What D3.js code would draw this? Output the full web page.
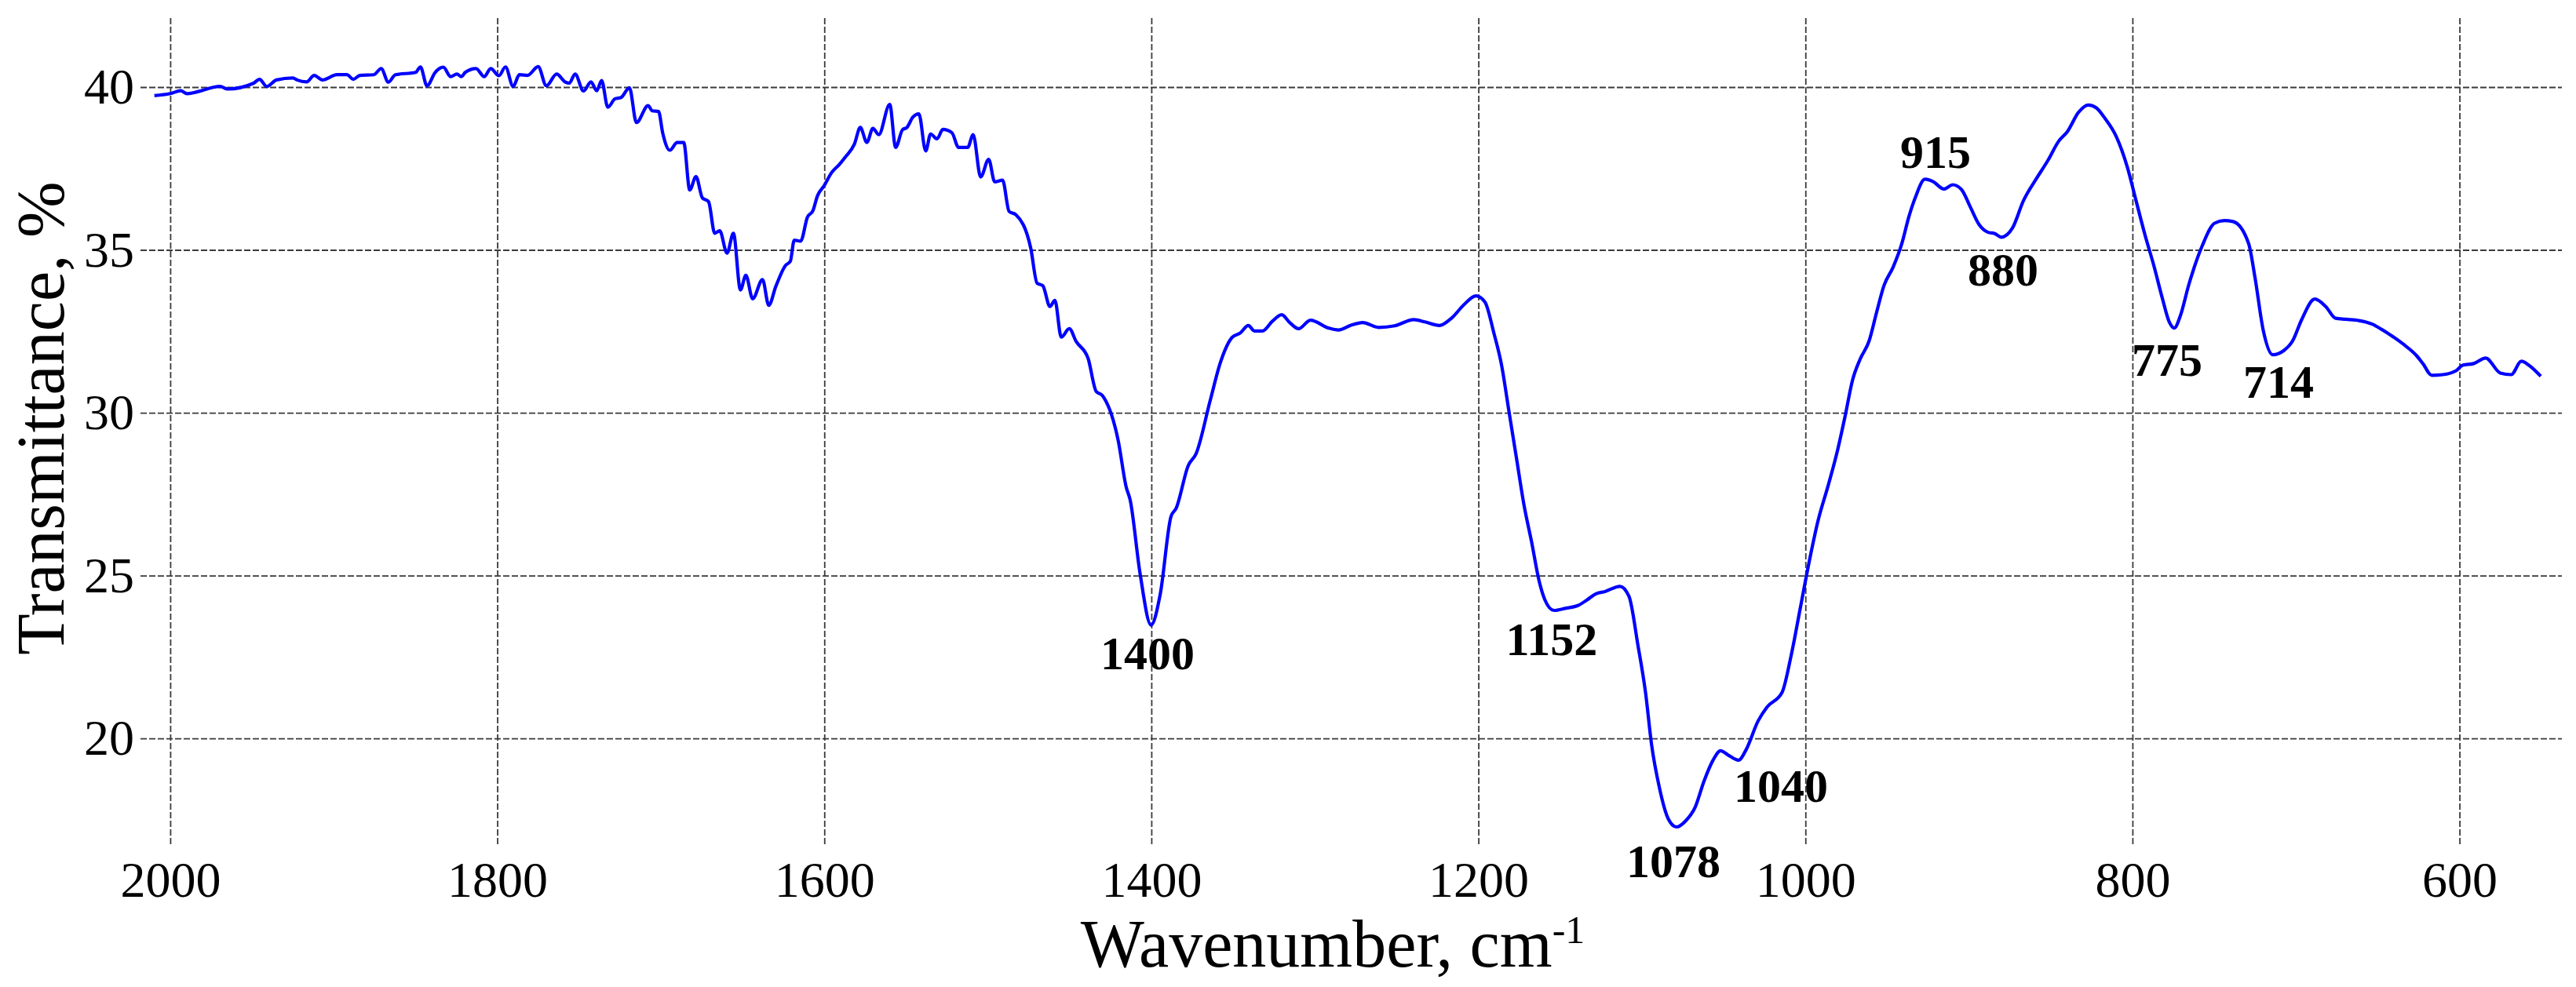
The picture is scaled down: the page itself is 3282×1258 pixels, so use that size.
<!DOCTYPE html>
<html>
<head>
<meta charset="utf-8">
<title>IR spectrum</title>
<script src="https://cdn.jsdelivr.net/npm/d3@7"></script>
<style>
    body { margin: 0; background: #ffffff; }
    .chart text { font-family: "Liberation Serif", "Times New Roman", serif; fill: #000; }
    .grid line { stroke: #3a3a3a; stroke-width: 1.8; stroke-dasharray: 8, 3; }
    .grid .domain { display: none; }
</style>
</head>
<body>
<div class="chart"></div>
<script>
// spectrum (wavenumber in cm-1, transmittance in %)
const wavenumber = [
    2009.7, 2000, 1993.6, 1989.8, 1969.5, 1964.9, 1949, 1945.4, 1941, 1935,
    1925, 1922.5, 1916.6, 1912, 1907, 1898, 1892, 1888, 1884, 1875.5,
    1871, 1866.6, 1862.3, 1850, 1847, 1843, 1838, 1833, 1828.5, 1824.7,
    1822, 1819.6, 1813, 1808, 1804, 1799, 1795, 1790.3, 1786.5, 1781.5,
    1775, 1770, 1763.7, 1758.6, 1756, 1752.4, 1747.3, 1742.7, 1739.2, 1736.2,
    1732.4, 1728, 1724.3, 1719.2, 1714.9, 1707.8, 1705.2, 1701.4, 1698.8, 1694.5,
    1690, 1686, 1682.3, 1678.5, 1674.6, 1670.8, 1667, 1664, 1659.5, 1655.6,
    1651.3, 1648, 1643.8, 1637.8, 1634, 1629.6,
    1623.8, 1620.8, 1618.4, 1614.5, 1610.3, 1607, 1604.2, 1600, 1595.6, 1590.7,
    1587, 1581.6, 1578, 1574, 1570.3, 1566.7, 1560, 1556.4, 1552.2, 1549.5,
    1545.8, 1542.2, 1538, 1535, 1531.1, 1527.5, 1522, 1517.9, 1512.3, 1509,
    1504.4, 1499.5, 1495.8, 1491, 1487, 1482.8, 1473.8, 1469.9, 1466.4, 1462,
    1459, 1455.1, 1450.2, 1446, 1438.7, 1433.8, 1430, 1420.3, 1415.4, 1413,
    1406.9, 1400.2, 1394.6, 1388, 1384.8, 1377.5, 1372.5, 1364, 1357.8, 1350.5,
    1345.6, 1340.7, 1337, 1332.1, 1326, 1320.3, 1315.4, 1310, 1302.7, 1291.7,
    1285.5, 1278.2, 1270.8, 1261, 1251.2, 1239.5,
    1232.7, 1223.9, 1216.1, 1208.8, 1201.5, 1196, 1190.5, 1185.9, 1181.3, 1176.7,
    1172.1, 1167.5, 1162.9, 1159.3, 1153.8, 1146.4, 1139.1, 1133.6, 1128.1, 1122.6,
    1113.4, 1107.9, 1102.4, 1097.8, 1094.1, 1089.5, 1084, 1078.9, 1073, 1067.5,
    1062, 1056.5, 1051.9, 1047.3, 1040.9, 1036.3, 1029, 1023.5, 1014.3, 1008.8,
    1003.3, 997.8, 992.3, 985.9, 980.4, 975.8, 971.2, 966.6, 961.1, 956.5, 952,
    946.3, 940.9, 936.8, 932.8, 926.9, 922, 915.3, 909.9, 904.5, 899.1,
    893.7, 888.3, 884.2, 880.2, 873.4, 866.7, 858.6, 851.8, 845.1, 839.7,
    832.9, 827, 822.1, 816.7, 810, 803.2, 797.8, 792.4, 787, 781.6,
    777.6, 774.4, 770.9, 765.5, 757.4, 749.8, 743.9, 738.5, 729, 725,
    720.1, 714.2, 707.4, 702, 696.6, 688.5, 681.8, 675.8, 669.6, 661.5,
    653.4, 648, 642.6, 634.5, 626.4, 622.4, 617, 610.2, 602.1, 598.1,
    591.3, 584, 575.1, 568.4, 562.2, 557.6, 550.3
];
const transmittance = [
    39.74, 39.80, 39.89, 39.80, 40.02, 39.94, 40.12, 40.24, 40.02, 40.22,
    40.28, 40.22, 40.16, 40.36, 40.22, 40.38, 40.38, 40.24, 40.36, 40.38,
    40.57, 40.15, 40.38, 40.45, 40.62, 40.04, 40.45, 40.61, 40.32, 40.40,
    40.32, 40.45, 40.57, 40.32, 40.57, 40.35, 40.62, 40.02, 40.38, 40.36,
    40.63, 40.04, 40.40, 40.16, 40.12, 40.40, 39.88, 40.16, 39.89, 40.20,
    39.38, 39.64, 39.68, 39.98, 38.91, 39.43, 39.27, 39.25, 38.58, 38.06,
    38.30, 38.30, 36.84, 37.25, 36.60, 36.48, 35.51, 35.59, 34.90, 35.51,
    33.77, 34.22, 33.50, 34.09, 33.30, 33.89,
    34.52, 34.65, 35.30, 35.27, 36.01, 36.20, 36.66, 36.98, 37.37, 37.63,
    37.86, 38.25, 38.76, 38.30, 38.73, 38.54, 39.47, 38.15, 38.69, 38.76,
    39.08, 39.18, 38.04, 38.56, 38.41, 38.70, 38.60, 38.15, 38.15, 38.54,
    37.24, 37.78, 37.09, 37.14, 36.18, 36.08, 35.06, 33.98, 33.90, 33.26,
    33.45, 32.32, 32.58, 32.19, 31.67, 30.66, 30.53, 29.15, 27.72, 27.33,
    25.06, 23.48, 24.42, 26.81, 27.07, 28.37, 28.76, 30.38, 31.54, 32.32,
    32.45, 32.68, 32.51, 32.51, 32.81, 33.01, 32.77, 32.58, 32.84, 32.60,
    32.54, 32.68, 32.77, 32.62, 32.67, 32.86,
    32.79, 32.68, 32.92, 33.32, 33.59, 33.40, 32.44, 31.48, 30.04, 28.60,
    27.16, 26.04, 24.84, 24.25, 23.93, 24.00, 24.08, 24.25, 24.44, 24.51,
    24.67, 24.36, 22.85, 21.41, 19.81, 18.53, 17.54, 17.28, 17.48, 17.88,
    18.69, 19.33, 19.62, 19.49, 19.33, 19.65, 20.53, 20.96, 21.41, 22.53,
    23.96, 25.40, 26.68, 27.80, 28.84, 29.88, 31.00, 31.64, 32.20, 33.08, 33.90,
    34.48, 35.22, 36.01, 36.61, 37.17, 37.10, 36.87, 37.00, 36.85, 36.31,
    35.77, 35.54, 35.50, 35.39, 35.67, 36.51, 37.20, 37.74, 38.34, 38.64,
    39.23, 39.45, 39.36, 39.03, 38.49, 37.55, 36.51, 35.47, 34.53, 33.49,
    32.80, 32.60, 32.95, 33.94, 35.12, 35.82, 35.90, 35.87, 35.20, 34.13,
    32.55, 31.78, 31.91, 32.21, 32.85, 33.49, 33.26, 32.90, 32.87, 32.83,
    32.72, 32.57, 32.40, 32.11, 31.76, 31.51, 31.15, 31.17, 31.29, 31.46,
    31.51, 31.68, 31.22, 31.17, 31.58, 31.46, 31.12
];

// tick values of both axes
const xTicks = [2000, 1800, 1600, 1400, 1200, 1000, 800, 600];
const yTicks = [20, 25, 30, 35, 40];

// band labels and where they sit (in data units)
const peakNames = ["1400", "1152", "1078", "1040", "915", "880", "775", "714"];
const peakLabelX = [1402.4, 1155.2, 1080.8, 1015, 920.5, 879.2, 778.9, 710.7];
const peakLabelY = [22.12, 22.55, 15.73, 18.06, 37.52, 33.90, 31.13, 30.46];

const width = 3282;
const height = 1258;
const plot = {left: 179, right: 3264, top: 23, bottom: 1076};

const svg = d3.select(".chart")
    .append("svg")
    .attr("width", width)
    .attr("height", height);

// scales: wavenumber runs right to left like in the spectrum
const xScale = d3.scaleLinear()
    .domain([2018.2, 537.4])
    .range([plot.left, plot.right]);

const yScale = d3.scaleLinear()
    .domain([16.75, 42.12])
    .range([plot.bottom, plot.top]);

// x axis, ticks stretched into dashed grid lines
const xAxis = svg.append("g")
    .attr("class", "grid")
    .attr("transform", `translate(0,${plot.bottom})`)
    .call(d3.axisBottom(xScale)
        .tickValues(xTicks)
        .tickSize(-(plot.bottom - plot.top))
        .tickPadding(22)
        .tickFormat(d3.format("d")));
xAxis.selectAll("text")
    .attr("font-size", 64)
    .attr("font-family", null);

// y axis, same trick for horizontal grid lines
const yAxis = svg.append("g")
    .attr("class", "grid")
    .attr("transform", `translate(${plot.left},0)`)
    .call(d3.axisLeft(yScale)
        .tickValues(yTicks)
        .tickSize(-(plot.right - plot.left))
        .tickPadding(8)
        .tickFormat(d3.format("d")));
yAxis.selectAll("text")
    .attr("font-size", 64)
    .attr("font-family", null);

// the spectrum itself
const points = wavenumber.map((w, i) => ({w: w, t: transmittance[i]}));

const spectrumLine = d3.line()
    .x(d => xScale(d.w))
    .y(d => yScale(d.t))
    .curve(d3.curveMonotoneX);

svg.append("path")
    .datum(points)
    .attr("fill", "none")
    .attr("stroke", "#0000ff")
    .attr("stroke-width", 4.2)
    .attr("stroke-linejoin", "round")
    .attr("d", spectrumLine);

// band labels
svg.selectAll(".peak-label")
    .data(peakNames)
    .join("text")
    .attr("class", "peak-label")
    .attr("x", (d, i) => xScale(peakLabelX[i]))
    .attr("y", (d, i) => yScale(peakLabelY[i]))
    .attr("text-anchor", "middle")
    .attr("font-size", 60)
    .attr("font-weight", "bold")
    .text(d => d);

// axis titles
const xTitle = svg.append("text")
    .attr("x", 1698)
    .attr("y", 1232)
    .attr("text-anchor", "middle")
    .attr("font-size", 86);
xTitle.append("tspan").text("Wavenumber, cm");
xTitle.append("tspan")
    .attr("font-size", 50)
    .attr("dy", -30)
    .text("-1");

svg.append("text")
    .attr("transform", "translate(81,533) rotate(-90)")
    .attr("text-anchor", "middle")
    .attr("font-size", 86)
    .text("Transmittance, %");
</script>
</body>
</html>
